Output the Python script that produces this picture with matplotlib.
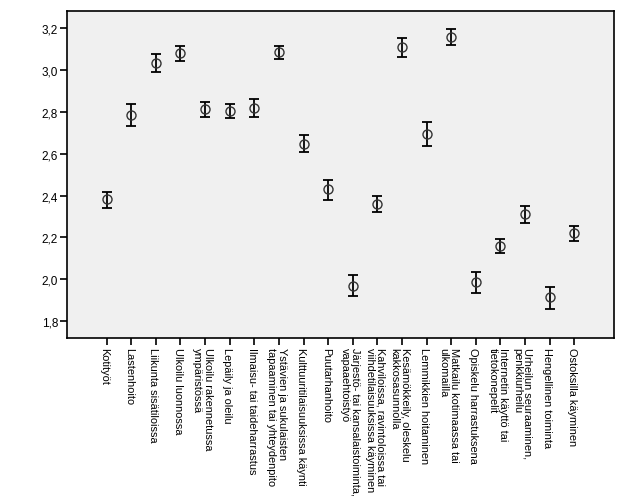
import matplotlib.pyplot as plt
import matplotlib.transforms as mtransforms

plt.rcParams['font.family'] = ['Liberation Sans', 'DejaVu Sans']

categories = [
    "Kotityöt",
    "Lastenhoito",
    "Liikunta sisätiloissa",
    "Ulkoilu luonnossa",
    "Ulkoilu rakennetussa\nympäristössä",
    "Lepäily ja oleilu",
    "Ilmaisu- tai taideharrastus",
    "Ystävien ja sukulaisten\ntapaaminen tai yhteydenpito",
    "Kulttuuritilaisuuksissa käynti",
    "Puutarhanhoito",
    "Järjestö- tai kansalaistoiminta,\nvapaaehtoistyö",
    "Kahviloissa, ravintoloissa tai\nviihdetilaisuuksissa käyminen",
    "Kesämökkeily, oleskelu\nkakkosasunnolla",
    "Lemmikkien hoitaminen",
    "Matkailu kotimaassa tai\nulkomailla",
    "Opiskelu harrastuksena",
    "Internetin käyttö tai\ntietokonepelit",
    "Urheilun seuraaminen,\npenkkiurheilu",
    "Hengellinen toiminta",
    "Ostoksilla käyminen",
]

means = [2.382, 2.783, 3.036, 3.081, 2.812, 2.805, 2.818, 3.085, 2.648, 2.430,
         1.970, 2.360, 3.109, 2.694, 3.160, 1.986, 2.161, 2.311, 1.913, 2.220]
ci_low = [2.341, 2.732, 2.993, 3.042, 2.775, 2.769, 2.775, 3.051, 2.607, 2.380,
          1.921, 2.322, 3.062, 2.637, 3.119, 1.935, 2.126, 2.269, 1.860, 2.182]
ci_high = [2.419, 2.836, 3.079, 3.117, 2.845, 2.839, 2.863, 3.117, 2.689, 2.476,
           2.018, 2.400, 3.155, 2.750, 3.197, 2.034, 2.194, 2.352, 1.965, 2.256]

yticks = [1.8, 2.0, 2.2, 2.4, 2.6, 2.8, 3.0, 3.2]
ytick_labels = ["1,8", "2,0", "2,2", "2,4", "2,6", "2,8", "3,0", "3,2"]


def main():
    x = list(range(len(categories)))
    err_low = [m - lo for m, lo in zip(means, ci_low)]
    err_high = [hi - m for m, hi in zip(means, ci_high)]

    fig = plt.figure(figsize=(6.27, 5.02), dpi=100)
    ax = fig.add_axes([0.1064, 0.3247, 0.9792 - 0.1064, 0.9755 - 0.3247])
    ax.set_facecolor("#f0f0f0")

    ax.errorbar(x, means, yerr=[err_low, err_high], fmt="none",
                ecolor="black", elinewidth=1.3, capsize=3.5, capthick=1.3)
    ax.plot(x, means, linestyle="none", marker="o", markersize=6.5,
            markerfacecolor="none", markeredgecolor="#333333",
            markeredgewidth=1.0)

    ax.set_xlim(-1.62, len(categories) - 1 + 1.61)
    ax.set_ylim(1.719, 3.281)
    ax.set_yticks(yticks)
    ax.set_yticklabels(ytick_labels, fontsize=8.5)
    ax.set_xticks(x)
    ax.set_xticklabels(categories, rotation=270, fontsize=7.9,
                       ha="center", va="top", multialignment="left",
                       linespacing=1.05)
    ax.tick_params(axis="both", length=4.8, width=1.2, color="black")
    ax.tick_params(axis="x", pad=1.5)
    ax.tick_params(axis="y", pad=1.5)

    # nudge labels slightly left like the original
    shift = mtransforms.ScaledTranslation(-2.5 / 100, 0, fig.dpi_scale_trans)
    for lbl in ax.get_xticklabels():
        lbl.set_transform(lbl.get_transform() + shift)

    for sp in ax.spines.values():
        sp.set_linewidth(1.2)

    fig.savefig("out.png", dpi=100)


if __name__ == "__main__":
    main()
